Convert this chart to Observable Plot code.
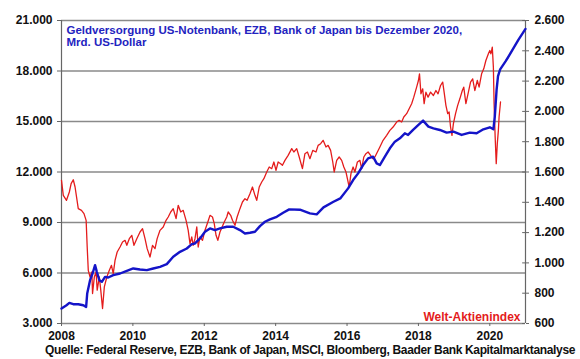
<!DOCTYPE html>
<html>
<head>
<meta charset="utf-8">
<script src="https://cdn.jsdelivr.net/npm/d3@7"></script>
<script src="https://cdn.jsdelivr.net/npm/@observablehq/plot@0.6"></script>
<style>
  body { margin: 0; background: #fff; font-family: "Liberation Sans", Arial, sans-serif; }
  #chart { width: 580px; }
  .caption { font: bold 12px "Liberation Sans", Arial, sans-serif; color: #111; padding-left: 45px; white-space: nowrap; line-height: 15px; }
</style>
</head>
<body>
<div id="chart"></div>
<script>
// Geldversorgung (Mrd. US-Dollar), linke Achse
const moneyYears = [2008.0,2008.14,2008.22,2008.33,2008.47,2008.61,2008.69,2008.72,2008.8,2008.87,2008.94,2008.99,2009.06,2009.13,2009.22,2009.31,2009.45,2009.64,2009.83,2010.01,2010.2,2010.39,2010.57,2010.76,2010.95,2011.13,2011.32,2011.51,2011.65,2011.74,2011.88,2012.02,2012.16,2012.3,2012.44,2012.63,2012.81,2013.0,2013.14,2013.28,2013.42,2013.56,2013.7,2013.84,2014.03,2014.21,2014.38,2014.68,2014.96,2015.15,2015.34,2015.62,2015.81,2016.03,2016.17,2016.31,2016.45,2016.59,2016.73,2016.83,2016.92,2017.06,2017.2,2017.34,2017.48,2017.62,2017.71,2017.85,2018.0,2018.13,2018.28,2018.42,2018.6,2018.79,2018.98,2019.21,2019.44,2019.63,2019.82,2020.0,2020.1,2020.14,2020.19,2020.23,2020.29,2020.45,2020.61,2020.8,2021.0];
const moneyValues = [3888,4086,4225,4146,4146,4086,3987,4780,5574,5970,6466,6069,5574,5475,5772,5732,5871,5970,6129,6268,6208,6168,6268,6367,6525,6962,7259,7457,7715,7755,8052,8449,8647,8548,8647,8747,8747,8548,8350,8389,8449,8786,9044,9183,9341,9579,9778,9760,9540,9480,9900,10230,10430,11027,11522,11919,12415,12811,12910,12514,12415,12910,13406,13803,14001,14299,14200,14497,14794,15052,14695,14596,14497,14338,14398,14200,14338,14299,14537,14656,14537,15290,16877,17700,18100,18600,19160,19850,20500];

// Welt-Aktienindex (MSCI), rechte Achse
const stockYears = [2008.0,2008.05,2008.14,2008.22,2008.27,2008.33,2008.38,2008.47,2008.56,2008.63,2008.69,2008.72,2008.75,2008.8,2008.85,2008.87,2008.92,2008.97,2009.0,2009.06,2009.1,2009.15,2009.2,2009.27,2009.34,2009.4,2009.45,2009.5,2009.56,2009.64,2009.71,2009.78,2009.83,2009.9,2009.97,2010.03,2010.11,2010.2,2010.27,2010.34,2010.4,2010.48,2010.55,2010.62,2010.68,2010.76,2010.85,2010.93,2010.99,2011.06,2011.13,2011.21,2011.27,2011.34,2011.41,2011.49,2011.55,2011.6,2011.65,2011.69,2011.74,2011.79,2011.83,2011.88,2011.95,2012.02,2012.1,2012.16,2012.23,2012.28,2012.33,2012.38,2012.44,2012.5,2012.56,2012.63,2012.67,2012.74,2012.79,2012.86,2012.92,2013.0,2013.07,2013.14,2013.2,2013.28,2013.35,2013.42,2013.47,2013.54,2013.61,2013.67,2013.75,2013.82,2013.89,2013.95,2014.01,2014.07,2014.14,2014.19,2014.26,2014.35,2014.45,2014.51,2014.59,2014.66,2014.75,2014.82,2014.89,2014.96,2015.04,2015.13,2015.19,2015.26,2015.33,2015.41,2015.47,2015.54,2015.6,2015.64,2015.71,2015.78,2015.85,2015.91,2015.97,2016.02,2016.06,2016.11,2016.17,2016.22,2016.29,2016.36,2016.41,2016.47,2016.53,2016.59,2016.66,2016.72,2016.78,2016.85,2016.92,2017.01,2017.11,2017.2,2017.29,2017.39,2017.46,2017.53,2017.59,2017.67,2017.74,2017.81,2017.87,2017.95,2018.0,2018.03,2018.07,2018.12,2018.16,2018.21,2018.27,2018.34,2018.42,2018.49,2018.55,2018.62,2018.68,2018.72,2018.77,2018.82,2018.86,2018.9,2018.94,2018.98,2019.04,2019.1,2019.16,2019.23,2019.27,2019.33,2019.4,2019.46,2019.52,2019.58,2019.65,2019.7,2019.77,2019.83,2019.89,2019.96,2020.0,2020.03,2020.07,2020.1,2020.12,2020.15,2020.18,2020.21,2020.24,2020.26,2020.3];
const stockValues = [1545,1446,1413,1468,1523,1549,1501,1358,1347,1325,1281,1105,951,907,940,798,907,940,820,907,820,699,842,907,951,984,929,1017,1072,1105,1138,1149,1116,1160,1182,1116,1160,1204,1226,1160,1094,1039,1116,1094,1160,1215,1237,1281,1303,1336,1358,1292,1380,1336,1347,1281,1215,1127,1171,1116,1160,1237,1105,1171,1149,1215,1270,1314,1303,1259,1182,1149,1204,1237,1270,1303,1336,1314,1281,1248,1303,1358,1402,1424,1413,1457,1501,1446,1413,1501,1534,1556,1600,1633,1622,1666,1611,1666,1655,1644,1677,1710,1754,1732,1754,1699,1622,1721,1732,1688,1743,1732,1776,1787,1809,1765,1776,1743,1666,1600,1677,1699,1677,1633,1600,1545,1501,1589,1633,1600,1666,1677,1622,1699,1721,1732,1710,1688,1699,1732,1765,1809,1842,1875,1897,1930,1941,1930,1963,1985,2018,2051,2094,2160,2204,2248,2116,2149,2051,2127,2094,2127,2105,2138,2116,2171,2193,2127,2040,1985,1996,1897,1842,1919,1985,2040,2083,2138,2160,2051,2127,2193,2215,2138,2204,2160,2248,2281,2336,2380,2402,2380,2424,2292,2051,1831,1655,1787,1875,1963,2062];

const xTicks = [2008,2010,2012,2014,2016,2018,2020];
const leftTicks = [3000,6000,9000,12000,15000,18000,21000];
const rightTicks = [600,800,1000,1200,1400,1600,1800,2000,2200,2400,2600];

const titleText = "Geldversorgung US-Notenbank, EZB, Bank of Japan bis Dezember 2020,\nMrd. US-Dollar";
const seriesLabel = "Welt-Aktienindex";
const captionText = "Quelle: Federal Reserve, EZB, Bank of Japan, MSCI, Bloomberg, Baader Bank Kapitalmarktanalyse";

// right axis mapped onto left scale
const toLeft = v => 3000 + (v - 600) * 9;
const toRight = v => (v - 3000) / 9 + 600;

const de = d3.formatLocale({decimal: ",", thousands: ".", grouping: [3], currency: ["", "€"]});
const fmt = de.format(",.0f");

const money = moneyYears.map((t, i) => ({t, v: moneyValues[i]}));
const stock = stockYears.map((t, i) => ({t, v: toLeft(stockValues[i])}));

const BLUE = "#1414c8";
const RED = "#e41c1c";

const chart = Plot.plot({
  width: 580,
  height: 343,
  marginLeft: 61,
  marginRight: 55,
  marginTop: 20,
  marginBottom: 20,
  style: {fontFamily: "'Liberation Sans', Arial, sans-serif", fontSize: "12px", background: "#fff", color: "#111"},
  x: {domain: [2008, 2021]},
  y: {domain: [3000, 21000]},
  marks: [
    Plot.ruleY(leftTicks, {stroke: "#8a8a8a", strokeWidth: 1.5}),
    Plot.ruleX([2008, 2021], {stroke: "#666", strokeWidth: 1.2}),
    Plot.ruleY(rightTicks.map(toLeft), {x1: 2020.92, x2: 2021, stroke: "#666"}),
    Plot.axisY({ticks: leftTicks, tickFormat: fmt, tickSize: 4, tickPadding: 5, anchor: "left", fontWeight: "bold", fontSize: 12, label: null, stroke: "#666"}),
    Plot.axisY({ticks: rightTicks.map(toLeft), tickFormat: v => fmt(toRight(v)), tickSize: 3, tickPadding: 6, anchor: "right", fontWeight: "bold", fontSize: 12, label: null, stroke: "#666"}),
    Plot.axisX({ticks: xTicks, tickFormat: d => String(d), tickSize: 3, tickPadding: 5, fontWeight: "bold", fontSize: 12, label: null, stroke: "#666"}),
    Plot.line(stock, {x: "t", y: "v", stroke: RED, strokeWidth: 1.3}),
    Plot.line(money, {x: "t", y: "v", stroke: BLUE, strokeWidth: 2.4}),
    Plot.text([titleText], {frameAnchor: "top-left", dx: 5, dy: 5, lineAnchor: "top", textAnchor: "start", fill: "#2323c0", fontWeight: "bold", fontSize: 11.5, lineHeight: 1.05}),
    Plot.text([seriesLabel], {frameAnchor: "bottom-right", dx: -5, dy: -3, lineAnchor: "bottom", textAnchor: "end", fill: RED, fontWeight: "bold", fontSize: 12})
  ]
});
document.getElementById("chart").appendChild(chart);
const cap = document.createElement("div");
cap.className = "caption";
const span = document.createElement("span");
span.textContent = captionText;
cap.appendChild(span);
document.getElementById("chart").appendChild(cap);
// fit caption to the reference width (about 530px)
const w = span.getBoundingClientRect().width;
if (w > 530) span.style.letterSpacing = ((530 - w) / captionText.length).toFixed(3) + "px";
</script>
</body>
</html>
